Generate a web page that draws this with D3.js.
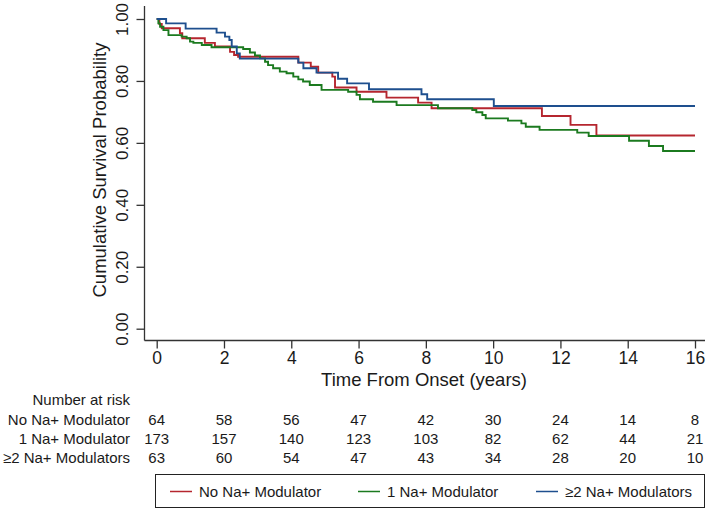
<!DOCTYPE html>
<html>
<head>
<meta charset="utf-8">
<script src="https://cdn.jsdelivr.net/npm/d3@7"></script>
<style>
  body { margin: 0; background: #fff; }
  svg { display: block; font-family: Arial, "Liberation Sans", sans-serif; }
</style>
</head>
<body>
<svg id="chart" width="709" height="510"></svg>
<script>
// ---- Data ----
const seriesNames = ["No Na+ Modulator", "1 Na+ Modulator", "≥2 Na+ Modulators"];
const seriesColors = ["#b5262f", "#1b7a1f", "#1e4f8e"];

// Kaplan-Meier step times (years) and survival values
const noModTimes = [0, 0.08, 0.15, 0.69, 0.76, 1.43, 1.73, 2.18, 2.30, 2.42, 4.21, 4.58, 4.80, 5.22, 5.30, 5.94, 6.83, 7.77, 8.17, 11.45, 12.30, 13.07, 16];
const noModSurv  = [1.0, 0.984, 0.970, 0.954, 0.938, 0.923, 0.911, 0.894, 0.884, 0.878, 0.859, 0.846, 0.827, 0.814, 0.779, 0.765, 0.746, 0.730, 0.712, 0.687, 0.658, 0.624, 0.624];

const oneModTimes = [0, 0.05, 0.10, 0.20, 0.35, 0.74, 0.89, 0.99, 1.09, 1.34, 1.63, 2.57, 2.77, 2.92, 3.07, 3.22, 3.31, 3.46, 3.66, 3.86, 4.06, 4.21, 4.35, 4.55, 4.90, 5.69, 5.94, 6.04, 6.43, 7.13, 8.36, 9.38, 9.50, 9.68, 9.78, 10.44, 10.84, 10.97, 11.38, 12.50, 12.84, 14.04, 14.63, 15.05, 16];
const oneModSurv  = [1.0, 0.986, 0.975, 0.964, 0.948, 0.943, 0.938, 0.927, 0.923, 0.916, 0.909, 0.903, 0.892, 0.882, 0.873, 0.862, 0.851, 0.841, 0.830, 0.825, 0.814, 0.805, 0.798, 0.787, 0.771, 0.765, 0.755, 0.741, 0.733, 0.722, 0.712, 0.706, 0.699, 0.690, 0.679, 0.672, 0.663, 0.652, 0.642, 0.633, 0.622, 0.607, 0.590, 0.574, 0.574];

const twoModTimes = [0, 0.28, 0.86, 1.78, 2.03, 2.16, 2.23, 2.38, 2.47, 4.21, 4.36, 4.75, 5.39, 5.66, 6.31, 7.87, 8.04, 10.02, 16];
const twoModSurv  = [1.0, 0.986, 0.969, 0.956, 0.943, 0.932, 0.911, 0.889, 0.872, 0.859, 0.841, 0.827, 0.807, 0.792, 0.773, 0.757, 0.741, 0.719, 0.719];

const xTicks = [0, 2, 4, 6, 8, 10, 12, 14, 16];
const yTicks = [0, 0.2, 0.4, 0.6, 0.8, 1.0];

const riskTimes = [0, 2, 4, 6, 8, 10, 12, 14, 16];
const riskNoMod  = [64, 58, 56, 47, 42, 30, 24, 14, 8];
const riskOneMod = [173, 157, 140, 123, 103, 82, 62, 44, 21];
const riskTwoMod = [63, 60, 54, 47, 43, 34, 28, 20, 10];

// ---- Layout ----
const svg = d3.select("#chart");
const axisColor = "#333";
const textColor = "#1a1a1a";
const ff = "Arial, 'Liberation Sans', sans-serif";

const x = d3.scaleLinear().domain([0, 16]).range([156.7, 695]);
const y = d3.scaleLinear().domain([0, 1]).range([328.7, 19]);

const axisX0 = 144.5, axisY0 = 340.5;

// axis lines
svg.append("line").attr("x1", axisX0).attr("x2", axisX0).attr("y1", 6).attr("y2", axisY0)
  .attr("stroke", axisColor).attr("stroke-width", 1.3);
svg.append("line").attr("x1", axisX0).attr("x2", 705).attr("y1", axisY0).attr("y2", axisY0)
  .attr("stroke", axisColor).attr("stroke-width", 1.3);

// y axis
const yAxis = svg.append("g").attr("transform", `translate(${axisX0},0)`)
  .call(d3.axisLeft(y).tickValues(yTicks).tickSize(8).tickFormat(d3.format(".2f")));
yAxis.select(".domain").remove();
yAxis.selectAll(".tick line").attr("stroke", axisColor).attr("stroke-width", 1.3);
yAxis.selectAll(".tick text")
  .attr("x", null).attr("dy", "0.35em")
  .attr("transform", "translate(-22,0) rotate(-90)")
  .attr("text-anchor", "middle")
  .attr("fill", textColor)
  .style("font-size", "17px").style("font-family", ff);

// x axis
const xAxis = svg.append("g").attr("transform", `translate(0,${axisY0})`)
  .call(d3.axisBottom(x).tickValues(xTicks).tickSize(8).tickFormat(d3.format("d")));
xAxis.select(".domain").remove();
xAxis.selectAll(".tick line").attr("stroke", axisColor).attr("stroke-width", 1.3);
xAxis.selectAll(".tick text")
  .attr("y", 23.5).attr("dy", null)
  .attr("fill", textColor)
  .style("font-size", "17.5px").style("font-family", ff);

// axis titles
svg.append("text").attr("x", 424).attr("y", 386).attr("text-anchor", "middle")
  .attr("fill", textColor).style("font-size", "18.5px").text("Time From Onset (years)");
svg.append("text").attr("transform", "translate(100,170) rotate(-90)").attr("text-anchor", "middle")
  .attr("dy", "0.35em")
  .attr("fill", textColor).style("font-size", "18.5px").text("Cumulative Survival Probability");

// curves
const allTimes = [noModTimes, oneModTimes, twoModTimes];
const allSurv = [noModSurv, oneModSurv, twoModSurv];
const line = d3.line().x(d => x(d[0])).y(d => y(d[1])).curve(d3.curveStepAfter);
allTimes.forEach((ts, i) => {
  const pts = ts.map((t, j) => [t, allSurv[i][j]]);
  svg.append("path").datum(pts)
    .attr("d", line)
    .attr("fill", "none")
    .attr("stroke", seriesColors[i])
    .attr("stroke-width", 1.9)
    .attr("stroke-linejoin", "miter");
});

// risk table
const tableFont = "15px";
const labelX = 130;
svg.append("text").attr("x", labelX).attr("y", 405).attr("text-anchor", "end")
  .attr("fill", textColor).style("font-size", tableFont).text("Number at risk");
const riskRows = [riskNoMod, riskOneMod, riskTwoMod];
const rowY = [424.5, 443.5, 462.5];
riskRows.forEach((row, i) => {
  svg.append("text").attr("x", labelX).attr("y", rowY[i]).attr("text-anchor", "end")
    .attr("fill", textColor).style("font-size", tableFont).text(seriesNames[i]);
  svg.append("g").selectAll("text").data(row).join("text")
    .attr("x", (d, j) => x(riskTimes[j]))
    .attr("y", rowY[i])
    .attr("text-anchor", "middle")
    .attr("fill", textColor).style("font-size", tableFont)
    .text(d => d);
});

// legend
svg.append("rect").attr("x", 155.5).attr("y", 474.5).attr("width", 549).attr("height", 33)
  .attr("fill", "#fff").attr("stroke", "#222").attr("stroke-width", 1);
const legendKeyX = [170, 358, 536];
legendKeyX.forEach((lx, i) => {
  svg.append("line").attr("x1", lx).attr("x2", lx + 22).attr("y1", 491.5).attr("y2", 491.5)
    .attr("stroke", seriesColors[i]).attr("stroke-width", 1.5);
  svg.append("text").attr("x", lx + 29).attr("y", 496.5).attr("fill", textColor)
    .style("font-size", tableFont).text(seriesNames[i]);
});
</script>
</body>
</html>
